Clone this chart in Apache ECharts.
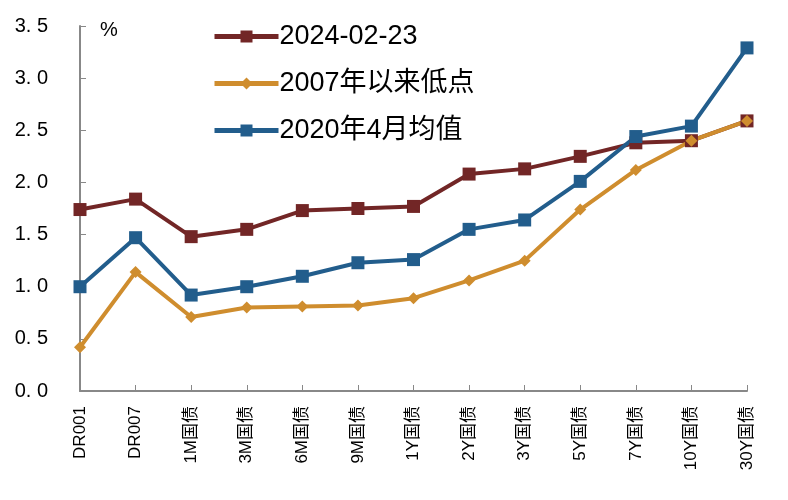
<!DOCTYPE html>
<html><head><meta charset="utf-8">
<script src="https://cdn.jsdelivr.net/npm/echarts@6/dist/echarts.min.js"></script>
<style>html,body{margin:0;padding:0;background:#fff}#c{width:788px;height:500px}</style>
</head><body><div id="c"></div>
<script>
const categories = ['DR001','DR007','1M国债','3M国债','6M国债','9M国债','1Y国债','2Y国债','3Y国债','5Y国债','7Y国债','10Y国债','30Y国债'];
const s2024 = [1.74,1.84,1.48,1.55,1.73,1.75,1.77,2.08,2.13,2.25,2.38,2.40,2.59];
const sLow2007 = [0.42,1.14,0.71,0.80,0.81,0.82,0.89,1.06,1.25,1.74,2.12,2.40,2.59];
const s2020Apr = [1.00,1.47,0.92,1.00,1.10,1.23,1.26,1.55,1.64,2.01,2.44,2.54,3.29];
const names = ['2024-02-23','2007年以来低点','2020年4月均值'];
const colors = ['#722626','#cf8d2e','#225d8c'];
const FONT = '"Liberation Sans", Arial, "Noto Sans CJK SC", sans-serif';
const chart = echarts.init(document.getElementById('c'));
function mk(name, data, color, symbol, size){
  return {name, type:'line', data, symbol, symbolSize:size, showSymbol:true,
    lineStyle:{width:4,color}, itemStyle:{color}, z: 2};
}
chart.setOption({
  animation:false,
  textStyle:{fontFamily:FONT},
  grid:{left:80,right:41,top:26,bottom:109,containLabel:false},
  legend:{orient:'vertical',left:207,top:18,itemWidth:64,itemHeight:15,itemGap:20,
    lineStyle:{width:5},
    textStyle:{fontSize:27,color:'#000',fontFamily:FONT,padding:[0,0,0,-4]},
    data:names},
  xAxis:{type:'category',data:categories,boundaryGap:false,
    axisLine:{lineStyle:{color:'#888',width:2}},
    axisTick:{inside:true,length:6,lineStyle:{color:'#888'},alignWithLabel:true},
    axisLabel:{rotate:90,fontSize:17,color:'#000',margin:15,interval:0,fontFamily:FONT}},
  yAxis:{type:'value',min:0,max:3.5,interval:0.5,name:'%',
    nameLocation:'end',nameGap:-4,
    nameTextStyle:{fontSize:20,color:'#000',align:'left',padding:[0,0,0,20],verticalAlign:'middle'},
    splitLine:{show:false},
    axisLine:{show:true,lineStyle:{color:'#888',width:2}},
    axisTick:{show:true,inside:true,length:6,lineStyle:{color:'#888'}},
    axisLabel:{fontSize:20,color:'#000',margin:32,fontFamily:FONT,
      formatter:v=>v.toFixed(1).replace('.', '. ')}},
  series:[
    mk(names[0], s2024, colors[0], 'rect', 13),
    mk(names[1], sLow2007, colors[1], 'diamond', 12),
    mk(names[2], s2020Apr, colors[2], 'rect', 13)
  ]
});
</script></body></html>
